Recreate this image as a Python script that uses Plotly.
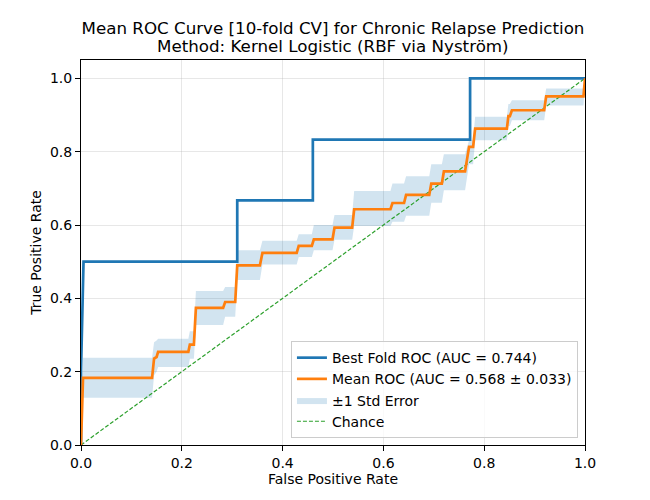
import plotly.graph_objects as go

# Best fold ROC
best_fpr = [0.0, 0.0, 0.005, 0.310, 0.310, 0.460, 0.460, 0.772, 0.772, 1.0]
best_tpr = [0.0, 0.2, 0.500, 0.500, 0.667, 0.667, 0.833, 0.833, 1.000, 1.0]

# Mean ROC
mean_fpr = [0.0, 0.004, 0.141, 0.145, 0.150, 0.153, 0.213, 0.216, 0.224, 0.228,
            0.282, 0.286, 0.306, 0.310, 0.355, 0.360, 0.428, 0.432, 0.458, 0.462,
            0.499, 0.503, 0.538, 0.542, 0.614, 0.618, 0.641, 0.645, 0.691, 0.695,
            0.716, 0.720, 0.762, 0.770, 0.778, 0.782, 0.845, 0.848, 0.851, 0.855,
            0.919, 0.923, 0.997, 1.0]
mean_tpr = [0.0, 0.183, 0.183, 0.236, 0.240, 0.254, 0.254, 0.274, 0.274, 0.374,
            0.374, 0.390, 0.390, 0.490, 0.490, 0.524, 0.524, 0.543, 0.543, 0.561,
            0.561, 0.593, 0.593, 0.643, 0.643, 0.660, 0.660, 0.682, 0.682, 0.713,
            0.713, 0.746, 0.746, 0.813, 0.813, 0.863, 0.863, 0.897, 0.897, 0.913,
            0.913, 0.951, 0.951, 1.0]
upper_tpr = [0.0, 0.238, 0.238, 0.280, 0.285, 0.290, 0.290, 0.310, 0.310, 0.420,
             0.420, 0.431, 0.431, 0.531, 0.531, 0.557, 0.557, 0.575, 0.575, 0.600,
             0.600, 0.627, 0.627, 0.693, 0.693, 0.713, 0.713, 0.733, 0.733, 0.766,
             0.766, 0.793, 0.793, 0.831, 0.831, 0.895, 0.895, 0.930, 0.930, 0.940,
             0.940, 0.972, 0.972, 1.0]
lower_tpr = [0.0, 0.129, 0.129, 0.190, 0.200, 0.213, 0.213, 0.235, 0.235, 0.327,
             0.327, 0.350, 0.350, 0.450, 0.450, 0.492, 0.492, 0.513, 0.513, 0.531,
             0.531, 0.560, 0.560, 0.597, 0.597, 0.609, 0.609, 0.625, 0.625, 0.661,
             0.661, 0.695, 0.695, 0.766, 0.766, 0.831, 0.831, 0.870, 0.870, 0.886,
             0.886, 0.926, 0.926, 1.0]

chance = [0.0, 1.0]

best_auc = 0.744
mean_auc = 0.568
auc_se = 0.033

title_line1 = "Mean ROC Curve [10-fold CV] for Chronic Relapse Prediction"
title_line2 = "Method: Kernel Logistic (RBF via Nyström)"

fig = go.Figure()
fig.add_trace(go.Scatter(x=mean_fpr, y=lower_tpr, mode="lines", line=dict(width=0),
                         showlegend=False, hoverinfo="skip"))
fig.add_trace(go.Scatter(x=mean_fpr, y=upper_tpr, mode="lines", line=dict(width=0),
                         fill="tonexty", fillcolor="rgba(31,119,180,0.2)",
                         name="±1 Std Error", legendrank=3))
fig.add_trace(go.Scatter(x=chance, y=chance, mode="lines",
                         line=dict(color="#2ca02c", width=1.2, dash="4px,2px"),
                         name="Chance", legendrank=4))
fig.add_trace(go.Scatter(x=best_fpr, y=best_tpr, mode="lines",
                         line=dict(color="#1f77b4", width=2.7),
                         name=f"Best Fold ROC (AUC = {best_auc:.3f})", legendrank=1))
fig.add_trace(go.Scatter(x=mean_fpr, y=mean_tpr, mode="lines",
                         line=dict(color="#ff7f0e", width=2.7),
                         name=f"Mean ROC (AUC = {mean_auc:.3f} ± {auc_se:.3f})", legendrank=2))

axis_common = dict(showline=True, linecolor="black", linewidth=1, mirror=True,
                   ticks="outside", ticklen=5, tickcolor="black",
                   showgrid=True, gridcolor="rgba(176,176,176,0.3)", gridwidth=1,
                   zeroline=False, tickfont=dict(size=14, color="black"),
                   tickformat=".1f", dtick=0.2)

fig.update_layout(
    width=650, height=500,
    margin=dict(l=73, r=73, t=52, b=63),
    paper_bgcolor="white", plot_bgcolor="white",
    font=dict(family="DejaVu Sans", size=14, color="black"),
    title=dict(text=title_line1, x=0.5, xanchor="center",
               y=1 - 20 / 500, yanchor="middle",
               font=dict(size=16.7, color="black")),
    xaxis=dict(range=[0, 1], title=dict(text="False Positive Rate", font=dict(size=14), standoff=4), **axis_common),
    yaxis=dict(range=[0, 1.05], title=dict(text="True Positive Rate", font=dict(size=14), standoff=5), **axis_common),
    legend=dict(x=0.986, xanchor="right", y=0.018, yanchor="bottom", traceorder="normal",
                bgcolor="rgba(255,255,255,0.8)", bordercolor="#cccccc", borderwidth=1,
                font=dict(size=14), tracegroupgap=0),
    showlegend=True,
)
fig.add_annotation(text=title_line2, xref="paper", yref="paper", x=0.5, y=1 + 14 / 385,
                   xanchor="center", yanchor="middle", showarrow=False,
                   font=dict(size=16.7, color="black"))

fig.write_html("out.html")
